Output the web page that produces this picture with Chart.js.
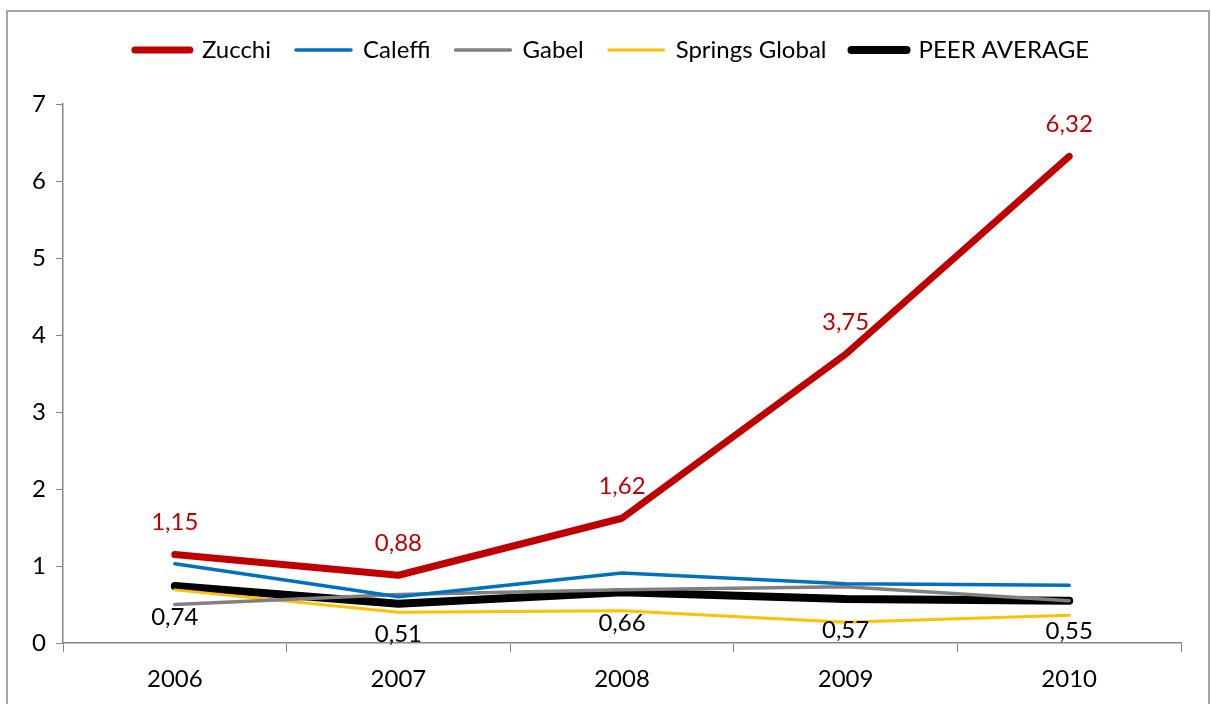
<!DOCTYPE html>
<html>
<head>
<meta charset="utf-8">
<script src="https://cdn.jsdelivr.net/npm/chart.js@4.4.1/dist/chart.umd.min.js"></script>
<style>
  html, body { margin: 0; padding: 0; background: #fff; overflow: hidden; }
  #wrap { position: relative; width: 1211px; height: 704px; }
  #frame { position: absolute; left: 6px; top: 10px; width: 1204px; height: 760px;
           border: 2px solid #a6a6a6; box-sizing: border-box; pointer-events: none; }
  canvas { position: absolute; left: 0; top: 0; }
</style>
</head>
<body>
<div id="wrap">
  <canvas id="chart" width="1211" height="704"></canvas>
  <div id="frame"></div>
</div>
<script>
// years on the x axis
const years = ['2006', '2007', '2008', '2009', '2010'];

// series values
const zucchi  = [1.15, 0.88, 1.62, 3.75, 6.32];
const caleffi = [1.03, 0.60, 0.91, 0.77, 0.75];
const gabel   = [0.50, 0.63, 0.69, 0.73, 0.55];
const springs = [0.69, 0.40, 0.42, 0.27, 0.36];
const peerAvg = [0.74, 0.51, 0.66, 0.57, 0.55];

const yTicks = [0, 1, 2, 3, 4, 5, 6, 7];

const FONT = 'Lato, "Open Sans", sans-serif';
const FSIZE = 24;

function fmt(v) {
    return v.toFixed(2).replace('.', ',');
}

// draws the value labels for Zucchi (above) and peer average (below)
const valueLabels = {
    id: 'valueLabels',
    afterInit(chart) {
        // leave some room between the legend and the plot
        const legend = chart.legend;
        const origFit = legend.fit;
        legend.fit = function () {
            origFit.call(this);
            this.height += 32;
        };
    },
    afterLayout(chart) {
        // legend is centred on the whole frame, not on the plot
        chart.legend.left = 43;
    },
    afterDatasetsDraw(chart) {
        const ctx = chart.ctx;
        ctx.save();
        ctx.font = FSIZE + 'px ' + FONT;
        ctx.textAlign = 'center';
        ctx.textBaseline = 'middle';
        chart.data.datasets.forEach((ds, i) => {
            if (!ds.showLabels) return;
            const meta = chart.getDatasetMeta(i);
            ctx.fillStyle = ds.labelColor;
            meta.data.forEach((pt, j) => {
                ctx.fillText(fmt(ds.data[j]), pt.x, pt.y + ds.labelOffset);
            });
        });
        ctx.restore();
    }
};

const chart = new Chart(document.getElementById('chart'), {
    type: 'line',
    data: {
        labels: years,
        datasets: [
            { label: 'Zucchi', data: zucchi, borderColor: '#C00000', backgroundColor: '#C00000',
              borderWidth: 7, showLabels: true, labelColor: '#C00000', labelOffset: -32 },
            { label: 'Caleffi', data: caleffi, borderColor: '#0070C0', backgroundColor: '#0070C0',
              borderWidth: 3.5 },
            { label: 'Gabel', data: gabel, borderColor: '#808080', backgroundColor: '#808080',
              borderWidth: 3.5 },
            { label: 'Springs Global', data: springs, borderColor: '#FFC000', backgroundColor: '#FFC000',
              borderWidth: 3 },
            { label: 'PEER AVERAGE', data: peerAvg, borderColor: '#000000', backgroundColor: '#000000',
              borderWidth: 8, showLabels: true, labelColor: '#000000', labelOffset: 31 }
        ]
    },
    options: {
        responsive: false,
        animation: false,
        devicePixelRatio: 1,
        layout: { padding: { left: 0, right: 30, top: 13, bottom: 0 } },
        elements: {
            point: { radius: 0, hoverRadius: 0 },
            line: { tension: 0, borderCapStyle: 'round', borderJoinStyle: 'round' }
        },
        plugins: {
            legend: {
                position: 'top',
                align: 'center',
                labels: {
                    usePointStyle: true,
                    pointStyle: 'line',
                    pointStyleWidth: 55,
                    boxWidth: 55,
                    padding: 25,
                    color: '#000',
                    font: { family: FONT, size: FSIZE },
                    generateLabels(chart) {
                        return chart.data.datasets.map((ds, i) => ({
                            text: ds.label,
                            fillStyle: ds.borderColor,
                            strokeStyle: ds.borderColor,
                            lineWidth: ds.borderWidth,
                            lineCap: 'round',
                            pointStyle: 'line',
                            hidden: false,
                            datasetIndex: i
                        }));
                    }
                }
            },
            tooltip: { enabled: false }
        },
        scales: {
            x: {
                offset: true,
                grid: { display: true, offset: true, drawOnChartArea: false, drawTicks: true,
                        tickLength: 9, color: '#868686', lineWidth: 1 },
                border: { display: true, color: '#868686', width: 1.5 },
                ticks: { color: '#000', font: { family: FONT, size: FSIZE }, padding: 13 },
                afterFit(scale) { scale.height = 61; }
            },
            y: {
                min: 0,
                max: 7,
                afterBuildTicks(scale) { scale.ticks = yTicks.map(v => ({ value: v })); },
                grid: { display: true, drawOnChartArea: false, drawTicks: true,
                        tickLength: 7, color: '#868686', lineWidth: 1 },
                border: { display: true, color: '#868686', width: 1.5 },
                ticks: { color: '#000', font: { family: FONT, size: FSIZE }, padding: 10 },
                afterFit(scale) { scale.width = 63; }
            }
        }
    },
    plugins: [valueLabels]
});
</script>
</body>
</html>
